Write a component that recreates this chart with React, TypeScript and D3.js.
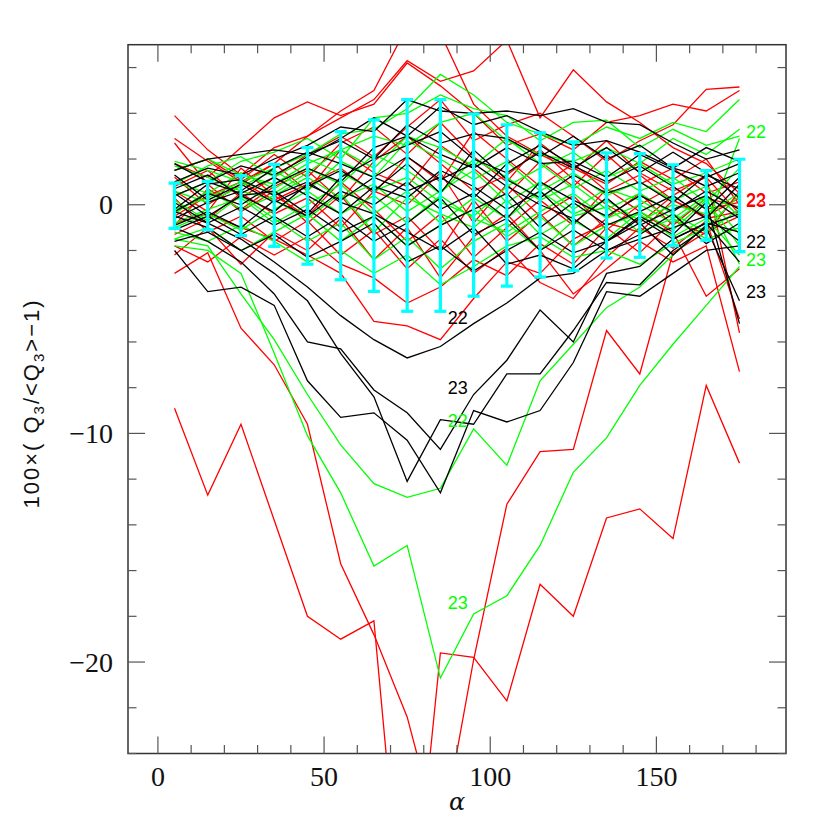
import * as d3 from 'd3';

// alpha sampling of every curve
const alpha = [5, 15, 25, 35, 45, 55, 65, 75, 85, 95, 105, 115, 125, 135, 145, 155, 165, 175];

// 100*(Q3/<Q3>-1) per curve
const redLines: number[][] = [
  [-8.9, -12.7, -9.6, -13.8, -18.0, -19.0, -18.2, -34.0, -19.6, -19.8, -21.7, -16.6, -18.0, -13.7, -13.3, -14.6, -7.9, -11.3],
  [-3.0, -2.1, -5.4, -7.0, -9.6, -15.7, -18.8, -22.4, -27.9, -19.9, -13.1, -10.8, -10.7, -5.5, -7.4, -2.1, -1.2, -0.5],
  [-0.8, -0.4, -1.0, -1.5, -2.2, -3.0, -5.1, -5.3, -5.9, -4.1, -2.5, -3.0, -1.5, -0.8, -1.2, 0.2, -0.5, 0.3],
  [3.9, 2.4, 1.3, 2.5, 3.0, 3.8, 4.6, 6.3, 5.4, 5.85, 7.2, 3.8, 5.9, 4.5, 3.6, 2.5, 1.8, 0.5],
  [2.9, 1.9, 1.0, 1.8, 3.0, 4.1, 5.0, 7.8, 7.5, 4.4, 3.0, 2.2, 1.5, 2.8, 1.4, 0.6, 1.2, -0.4],
  [1.8, 1.2, 2.5, 3.8, 4.5, 3.9, 4.4, 6.2, 5.2, 4.0, 2.6, 3.1, 2.4, 3.6, 3.9, 4.4, 4.1, 5.0],
  [0.8, 1.5, 0.3, 1.2, 2.2, 3.0, 2.1, 3.4, 4.6, 2.8, 3.5, 4.0, 3.0, 1.9, 2.8, 3.5, 5.05, 5.15],
  [-0.5, 0.4, 1.0, 0.2, 0.9, 1.6, 0.5, 2.1, 1.0, 3.2, 2.0, 0.8, 1.8, 0.6, 1.3, 0.2, -0.6, -0.3],
  [-1.3, -0.6, 0.5, -0.4, 0.3, -1.0, 0.6, 0.0, 1.4, -0.8, 0.9, -0.5, 0.4, -1.1, 0.0, 0.8, -0.2, 0.1],
  [2.7, 0.9, -0.3, 0.6, -0.8, 0.4, -1.3, -0.5, -2.0, 0.2, -1.6, -0.4, -1.8, -0.6, 0.5, -0.9, 0.3, -0.1],
  [0.3, -1.2, -0.5, -1.6, -0.7, -2.2, -1.1, -2.8, -1.5, -3.0, -1.9, -3.4, -4.1, -2.3, -1.0, -1.9, -0.7, -5.0],
  [-2.2, -1.0, -2.6, -1.2, -2.0, -0.6, -2.4, -1.0, -3.2, -1.4, -0.4, -2.0, -3.9, -2.8, -1.6, -2.5, -1.8, -7.3],
  [1.2, 0.0, 0.9, 1.8, 0.6, 2.4, 1.4, 0.8, 2.6, 1.6, 0.4, 1.9, 0.8, 2.2, 0.9, 1.6, 0.5, 1.0],
  [-0.9, 0.7, -0.2, 0.8, 1.5, 0.2, 1.9, 3.0, 1.8, 0.6, 1.3, 2.4, 1.1, 0.0, -0.8, 0.4, 1.3, -5.6],
  [0.6, -0.3, 1.6, 0.4, -0.5, 1.0, -0.2, -1.6, -0.4, -2.3, -1.0, 0.2, -0.9, 0.7, -0.3, -1.2, -4.0, -2.8],
  [-1.8, -2.5, -1.4, -2.2, -1.4, -2.6, -3.2, -4.3, -3.6, -2.4, -3.1, -1.7, -2.6, -1.0, -2.1, -0.7, -1.3, 0.6],
  [1.5, 2.0, 1.1, 2.2, 1.2, 2.7, 3.4, 2.2, 3.6, 2.1, 1.0, 2.7, 1.6, 0.9, 1.9, 1.1, 2.0, 0.0],
];

const greenLines: number[][] = [
  [-1.8, -2.0, -3.0, -6.5, -10.1, -12.6, -15.8, -14.9, -20.7, -17.9, -17.1, -14.9, -11.7, -10.2, -7.9, -6.1, -4.4, -2.7],
  [-1.5, -1.8, -3.9, -5.9, -8.3, -10.5, -12.2, -12.8, -12.4, -9.8, -11.4, -7.7, -6.1, -4.5, -3.6, -2.2, -0.9, 2.9],
  [1.9, 1.5, 1.0, 1.6, 2.2, 3.1, 3.3, 4.2, 5.7, 4.8, 3.6, 3.1, 2.6, 3.4, 2.9, 3.6, 3.2, 4.6],
  [1.5, 2.0, 1.3, 0.9, 1.8, 2.4, 3.0, 2.6, 3.6, 4.0, 2.8, 2.2, 1.9, 2.5, 1.8, 2.9, 2.2, 3.3],
  [0.6, 0.1, 0.8, 1.5, 0.6, 1.9, 1.2, 2.8, 2.0, 1.1, 1.9, 0.6, 1.4, 0.4, 1.0, 0.2, 0.8, -0.5],
  [-0.4, 0.6, -0.2, 0.4, 1.2, 0.3, 0.9, -0.3, 0.6, 1.5, 0.1, 1.0, -0.2, 0.7, 0.2, -0.6, 0.4, -1.3],
  [-1.5, -1.0, -2.0, -1.2, -0.4, -1.6, -0.5, -1.8, -0.9, -0.2, -1.4, -0.5, -1.8, -0.9, -0.4, -1.4, -0.6, -2.2],
  [0.2, -0.7, 0.4, -0.6, -1.6, -0.8, -2.4, -1.4, -2.8, -1.6, -0.8, -2.0, -0.7, -1.5, -0.3, -1.1, 0.2, -1.8],
  [1.0, 0.5, 1.4, 0.7, 1.6, 0.9, 2.2, 1.5, 0.5, 2.0, 1.2, 0.2, 0.9, -0.2, 0.5, -0.4, -1.2, -0.2],
  [-0.8, -0.2, 0.3, -0.8, 0.0, 0.9, -0.4, 0.6, -0.8, 0.3, -0.6, 0.6, -0.4, 0.2, -0.7, 0.0, -0.4, 0.5],
  [0.4, 1.0, 1.9, 2.3, 2.9, 2.0, 3.8, 4.0, 4.8, 4.2, 3.9, 2.8, 3.6, 3.7, 2.5, 3.3, 2.6, 3.0],
  [-1.2, -1.6, -0.9, -1.6, -2.5, -2.0, -3.0, -2.2, -3.5, -2.7, -1.8, -1.4, -2.3, -2.0, -2.6, -1.7, -1.0, 0.4],
  [1.7, 1.2, 0.6, 0.2, -0.6, 0.5, -1.2, 0.3, -0.4, -1.0, 0.2, -1.3, -0.5, -0.1, -1.2, -0.6, -1.5, -1.0],
  [-0.2, 0.3, 1.0, 0.5, 1.4, 2.4, 1.6, 3.0, 2.5, 1.7, 2.9, 1.8, 0.7, 1.5, 0.6, 1.2, 0.1, 1.6],
  [0.9, 1.7, 2.1, 1.2, 2.0, 1.4, 0.6, 1.2, 0.1, -0.5, 0.8, 1.6, 2.3, 1.2, 1.8, 0.9, 1.4, 2.0],
  [-1.0, -0.4, -1.1, -0.2, 0.6, -0.4, 0.4, -0.8, 0.4, -0.6, -1.2, -0.3, 0.5, -0.6, 0.0, -0.8, 0.3, -2.6],
];

const blackLines: number[][] = [
  [-2.0, -3.8, -3.6, -4.4, -7.7, -9.3, -9.1, -10.3, -12.6, -9.0, -9.5, -9.0, -6.9, -3.8, -4.0, -3.0, -2.0, -1.8],
  [-1.0, -1.6, -2.5, -3.9, -6.0, -6.3, -8.1, -9.1, -10.7, -8.3, -6.8, -4.6, -6.0, -3.0, -2.7, -1.5, -0.8, -2.5],
  [-0.5, -1.0, -2.0, -3.0, -4.2, -6.5, -8.4, -12.1, -9.4, -9.6, -7.4, -7.4, -5.5, -3.4, -3.5, -2.0, -1.0, -4.2],
  [-0.3, -0.8, -1.5, -2.5, -3.6, -4.85, -5.9, -6.7, -6.2, -5.2, -4.3, -3.2, -3.0, -2.0, -1.5, -1.0, -0.5, -1.6],
  [1.0, 1.6, 1.3, 2.0, 2.6, 3.4, 3.2, 4.6, 4.1, 4.0, 4.1, 3.9, 4.2, 3.6, 3.5, 2.7, 2.0, 2.4],
  [0.4, 1.0, 1.7, 1.3, 2.1, 2.9, 3.8, 3.0, 4.3, 3.5, 3.9, 3.2, 2.6, 2.8, 2.3, 1.6, 1.2, 1.8],
  [-0.3, 0.5, 0.0, 0.9, 1.6, 1.0, 2.5, 3.0, 2.2, 1.6, 2.5, 1.8, 1.9, 1.2, 2.2, 1.5, 0.8, 1.4],
  [1.3, 0.2, 0.9, 0.1, 0.8, 1.5, 0.6, 1.8, 0.5, 2.4, 1.1, 0.3, 1.3, 0.5, 1.0, 0.1, 1.3, 0.7],
  [-0.9, -0.3, -1.0, 0.2, -0.5, 0.6, 0.0, 1.0, -0.2, 0.5, -0.6, 1.0, 0.2, -0.5, 0.4, -0.3, 0.6, -0.2],
  [0.1, -0.8, -0.1, -0.9, -0.2, -1.2, -0.5, -1.8, -0.9, -0.2, 0.5, -1.0, 0.1, -0.9, -0.3, 0.4, -0.6, 0.9],
  [1.8, 1.0, 0.5, 1.2, 0.4, -0.4, 0.8, 0.3, 1.5, 0.8, -0.2, 0.6, -0.8, 0.3, -0.9, -0.2, 0.4, -0.6],
  [-1.6, -1.2, -2.0, -1.3, -2.3, -1.6, -0.8, -2.5, -1.8, -2.9, -2.0, -1.2, -2.1, -1.6, -0.6, -1.5, -0.8, -1.2],
  [0.7, 1.3, 0.4, 0.6, -0.4, 1.2, 2.0, 2.6, 3.2, 2.0, 1.4, 2.3, 1.6, 2.5, 1.4, 2.3, 1.4, 0.3],
  [-0.6, 0.1, 0.6, 1.6, 2.3, 1.8, 1.2, 0.6, 1.2, 0.3, 1.8, 2.6, 1.7, 1.0, 1.7, 0.8, -0.2, 1.2],
  [0.5, -0.5, -1.3, -0.5, -1.4, -0.5, -1.6, -0.8, 0.3, -1.3, -0.6, -2.0, -1.1, -2.0, -1.3, -0.4, -1.7, -0.8],
  [-1.1, -0.5, 0.4, -0.3, 0.9, 0.2, 1.2, 2.1, 1.1, 1.8, 0.8, 0.0, -0.6, -1.6, -0.5, -1.3, 0.1, -5.2],
  [1.5, 2.0, 2.2, 2.4, 2.2, 2.8, 2.0, 3.5, 2.7, 3.1, 2.9, 2.1, 3.0, 2.0, 2.6, 1.6, 2.5, 1.9],
  [-0.2, 0.9, 1.1, 0.4, 1.0, 0.1, -0.4, -1.2, -2.0, -1.0, -2.6, -2.2, -2.8, -1.6, -0.8, -2.2, -0.9, -0.4],
];

// cyan error bars: upper and lower ends
const errTop = [0.95, 1.02, 1.27, 1.77, 2.5, 3.2, 3.71, 4.6, 4.6, 3.97, 3.5, 3.15, 2.75, 2.27, 2.24, 1.75, 1.49, 1.99];
const errBottom = [-1.03, -1.1, -1.35, -1.82, -2.6, -3.28, -3.79, -4.66, -4.66, -4.0, -3.56, -3.16, -2.88, -2.33, -2.3, -1.79, -1.55, -2.05];

// curve labels
const labelText = ['22', '23', '22', '23', '22', '22', '23', '22', '23', '23'];
const labelAlpha = [87.2, 87.2, 87.2, 87.2, 177, 177, 177, 177, 177, 177];
const labelValue = [-5.2, -8.27, -9.74, -17.67, 2.93, -0.05, -0.09, -1.88, -2.7, -4.1];
const labelColor = ['#000', '#000', '#0f0', '#0f0', '#0f0', '#f00', '#f00', '#000', '#0f0', '#000'];

const xMajor = [0, 50, 100, 150];
const yMajor = [-20, -10, 0];

export default function App() {
  const left = 128, right = 786, top = 44.7, bottom = 753.5;
  const x = d3.scaleLinear().domain([-9, 189]).range([left, right]);
  const y = d3.scaleLinear().domain([-24, 7]).range([bottom, top]);

  const line = d3.line<number>()
    .x((_, i) => x(alpha[i]))
    .y(d => y(d));

  const xMinor = d3.range(0, 181, 10);
  const yMinor = d3.range(-24, 7, 2);
  const tickColor = '#555';

  const drawLines = (rows: number[][], color: string) =>
    rows.map((r, i) => (
      <path key={color + i} d={line(r) ?? ''} fill="none" stroke={color} strokeWidth={1.3} />
    ));

  return (
    <svg width={830} height={830} style={{ position: 'absolute', left: 0, top: 0, background: '#fff' }}>
      <defs>
        <clipPath id="plotArea">
          <rect x={left} y={top} width={right - left} height={bottom - top} />
        </clipPath>
      </defs>

      <g clipPath="url(#plotArea)">
        {drawLines(redLines, '#ff0000')}
        {drawLines(greenLines, '#00ff00')}
        {drawLines(blackLines, '#000000')}
        {alpha.map((a, i) => (
          <g key={'err' + a} stroke="#00ffff" strokeWidth={3.2}>
            <line x1={x(a)} x2={x(a)} y1={y(errTop[i])} y2={y(errBottom[i])} />
            <line x1={x(a) - 6} x2={x(a) + 6} y1={y(errTop[i])} y2={y(errTop[i])} />
            <line x1={x(a) - 6} x2={x(a) + 6} y1={y(errBottom[i])} y2={y(errBottom[i])} />
          </g>
        ))}
      </g>

      {labelText.map((t, i) => (
        <text key={'lab' + i} x={x(labelAlpha[i])} y={y(labelValue[i])} fill={labelColor[i]}
          fontFamily="Liberation Sans, Arial, sans-serif" fontSize={18}>{t}</text>
      ))}

      {/* frame */}
      <rect x={left} y={top} width={right - left} height={bottom - top} fill="none" stroke="#333" strokeWidth={1.5} />

      {/* x ticks, bottom and top */}
      {xMinor.map(v => {
        const len = xMajor.includes(v) ? 17 : 8.5;
        return (
          <g key={'xt' + v} stroke={tickColor} strokeWidth={1.2}>
            <line x1={x(v)} x2={x(v)} y1={bottom} y2={bottom - len} />
            <line x1={x(v)} x2={x(v)} y1={top} y2={top + len} />
          </g>
        );
      })}
      {/* y ticks, left and right */}
      {yMinor.map(v => {
        const len = yMajor.includes(v) ? 17 : 8.5;
        return (
          <g key={'yt' + v} stroke={tickColor} strokeWidth={1.2}>
            <line x1={left} x2={left + len} y1={y(v)} y2={y(v)} />
            <line x1={right} x2={right - len} y1={y(v)} y2={y(v)} />
          </g>
        );
      })}

      {xMajor.map(v => (
        <text key={'xl' + v} x={x(v)} y={786} textAnchor="middle"
          fontFamily="Liberation Serif, Times New Roman, serif" fontSize={28} fill="#111">{v}</text>
      ))}
      {yMajor.map(v => (
        <text key={'yl' + v} x={113} y={y(v) + 9.5} textAnchor="end"
          fontFamily="Liberation Serif, Times New Roman, serif" fontSize={28} fill="#111">
          {v < 0 ? '\u2212' + Math.abs(v) : v}
        </text>
      ))}

      <text x={(left + right) / 2} y={810} textAnchor="middle"
        fontFamily="DejaVu Serif, serif" fontStyle="italic" fontSize={24} fill="#111">α</text>

      <text transform="translate(39,403.5) rotate(-90)" textAnchor="middle"
        fontFamily="Liberation Sans, Arial, sans-serif" fontSize={22} fill="#111"
        style={{ letterSpacing: '2px' }}>
        100×( Q<tspan fontSize={15} dy={5}>3</tspan><tspan dy={-5}>/&lt;Q</tspan><tspan fontSize={15} dy={5}>3</tspan><tspan dy={-5}>&gt;−1)</tspan>
      </text>
    </svg>
  );
}
